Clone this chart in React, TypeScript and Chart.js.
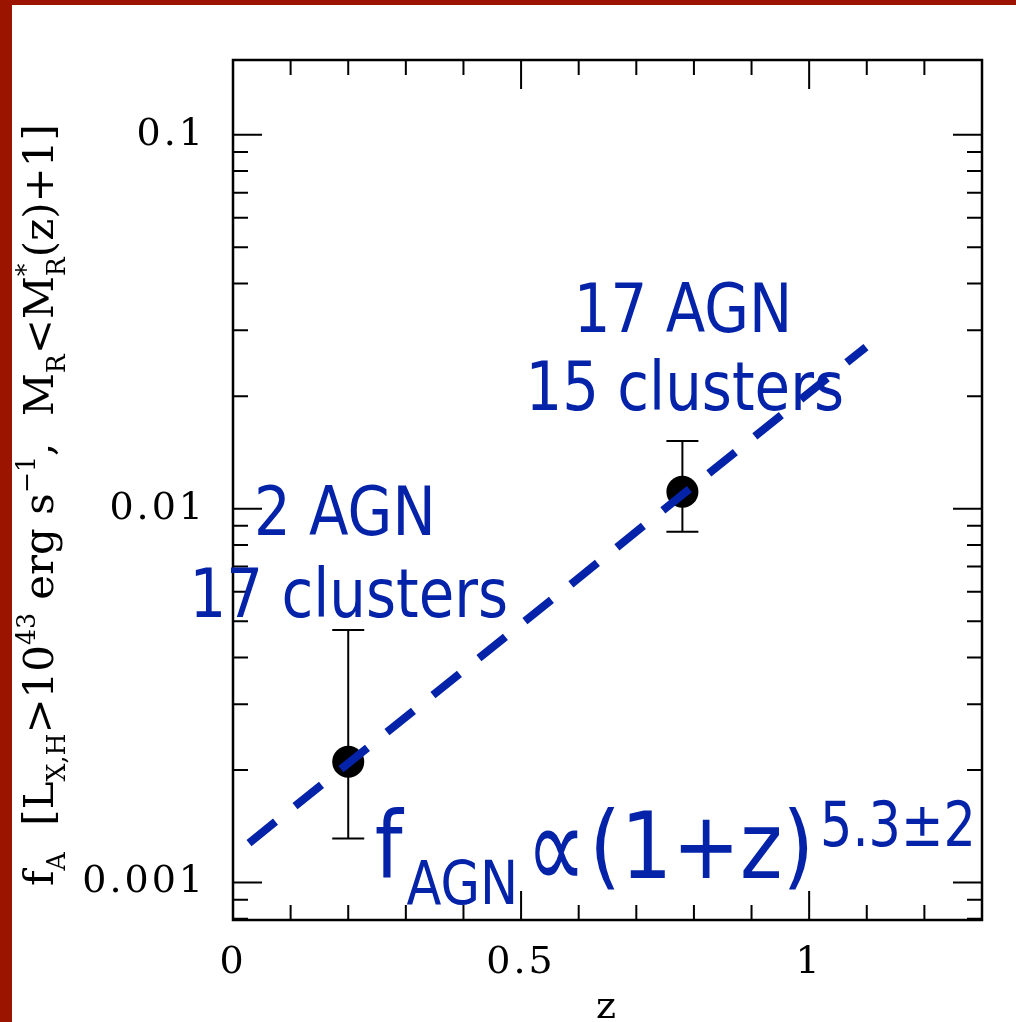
import React, { useEffect, useRef } from 'react';
import { Chart, registerables } from 'chart.js';

Chart.register(...registerables);

// ---- data ----
const zValues = [0.2, 0.78];
const fValues = [0.002105, 0.0111];
const fErrHigh = [0.004737, 0.01517];
const fErrLow = [0.001313, 0.008679];

const fitZ = [0.0278, 1.0986];
const fitF = [0.001276, 0.02706];

const xLabelValues = [0, 0.5, 1];
const xLabelTexts = ['0', '0.5', '1'];
const yLabelValues = [0.001, 0.01, 0.1];
const yLabelTexts = ['0.001', '0.01', '0.1'];

const noteTexts = ['17 AGN', '15 clusters', '2 AGN', '17 clusters'];
const noteZ = [0.781, 0.784, 0.194, 0.201];
const noteF = [0.0297, 0.01836, 0.00851, 0.00513];

const formulaZ = 0.246;
const formulaF = 0.001028;

// ---- styling ----
const BLUE = '#0523a8';
const RED = '#9b1400';
const SERIF = '"DejaVu Serif", serif';
const SANS = '"DejaVu Sans", sans-serif';
const SX = 0.85;

const Y_MIN = Math.pow(10, -3.1);
const Y_MAX = Math.pow(10, -0.8);

function buildYTicks(): number[] {
  const out: number[] = [];
  for (let e = -4; e <= 0; e++) {
    for (let m = 1; m <= 9; m++) {
      const v = m * Math.pow(10, e);
      if (v >= Y_MIN * 0.9999 && v <= Y_MAX * 1.0001) out.push(v);
    }
  }
  return out;
}

function drawScaled(ctx: CanvasRenderingContext2D, text: string, x: number, y: number, size: number, align: CanvasTextAlign, sx: number) {
  ctx.save();
  ctx.font = `${size}px ${SANS}`;
  ctx.translate(x, y);
  ctx.scale(sx, 1);
  ctx.textAlign = align;
  ctx.textBaseline = 'alphabetic';
  ctx.fillText(text, 0, 0);
  ctx.restore();
}
function widthScaled(ctx: CanvasRenderingContext2D, text: string, size: number, sx: number) {
  ctx.save();
  ctx.font = `${size}px ${SANS}`;
  const w = ctx.measureText(text).width * sx;
  ctx.restore();
  return w;
}

type Part = { t: string; k: 'n' | 'sub' | 'sup'; stack?: boolean };
const titleParts: Part[] = [
  { t: 'f', k: 'n' },
  { t: 'A', k: 'sub' },
  { t: '  [', k: 'n' },
  { t: 'L', k: 'n' },
  { t: 'X,H', k: 'sub' },
  { t: '>10', k: 'n' },
  { t: '43', k: 'sup' },
  { t: ' erg s', k: 'n' },
  { t: '\u22121', k: 'sup' },
  { t: ',  M', k: 'n' },
  { t: 'R', k: 'sub' },
  { t: '<M', k: 'n' },
  { t: '*', k: 'sup', stack: true },
  { t: 'R', k: 'sub' },
  { t: '(z)+1]', k: 'n' },
];
const TITLE_LENGTH = 762;

function layoutTitle(ctx: CanvasRenderingContext2D, F: number, draw: boolean): number {
  const S = F * 0.6;
  let cx = 0;
  let pendingStack = 0;
  titleParts.forEach((p) => {
    const size = p.k === 'n' ? F : S;
    ctx.font = `${size}px ${SERIF}`;
    const dy = p.k === 'sub' ? F * 0.28 : p.k === 'sup' ? -F * 0.42 : 0;
    if (draw) ctx.fillText(p.t, cx, dy);
    const w = ctx.measureText(p.t).width;
    if (p.stack) {
      pendingStack = w;
    } else {
      cx += Math.max(w, pendingStack);
      pendingStack = 0;
    }
  });
  return cx;
}

const framePlugin = {
  id: 'framePlugin',
  beforeDraw(chart: any) {
    const { ctx, width, height } = chart;
    ctx.save();
    ctx.fillStyle = '#ffffff';
    ctx.fillRect(0, 0, width, height);
    ctx.restore();
    // wider letter spacing for the axis labels (reference font is widely spaced)
    (ctx as any).letterSpacing = '3px';
  },
  beforeDatasetsDraw(chart: any) {
    const { ctx, chartArea: a, scales } = chart;
    (ctx as any).letterSpacing = '0px';
    const xs = scales.x;
    const ys = scales.y;
    ctx.save();
    ctx.strokeStyle = '#000';
    ctx.lineWidth = 2;
    ctx.beginPath();
    xs.ticks.forEach((t: any) => {
      const v = t.value;
      const px = xs.getPixelForValue(v);
      const major = Math.abs(v * 2 - Math.round(v * 2)) < 1e-6;
      const len = major ? 29 : 15;
      ctx.moveTo(px, a.bottom);
      ctx.lineTo(px, a.bottom - len);
      ctx.moveTo(px, a.top);
      ctx.lineTo(px, a.top + len);
    });
    ys.ticks.forEach((t: any) => {
      const v = t.value;
      const py = ys.getPixelForValue(v);
      const e = Math.floor(Math.log10(v) + 1e-9);
      const m = v / Math.pow(10, e);
      const major = Math.abs(m - 1) < 1e-6;
      const len = major ? 29 : 15;
      ctx.moveTo(a.left, py);
      ctx.lineTo(a.left + len, py);
      ctx.moveTo(a.right, py);
      ctx.lineTo(a.right - len, py);
    });
    ctx.stroke();
    ctx.lineWidth = 2.5;
    ctx.strokeRect(a.left, a.top, a.right - a.left, a.bottom - a.top);

    // error bars
    ctx.lineWidth = 2;
    ctx.beginPath();
    zValues.forEach((z, i) => {
      const px = xs.getPixelForValue(z);
      const pHi = ys.getPixelForValue(fErrHigh[i]);
      const pLo = ys.getPixelForValue(fErrLow[i]);
      ctx.moveTo(px, pHi);
      ctx.lineTo(px, pLo);
      ctx.moveTo(px - 16, pHi);
      ctx.lineTo(px + 16, pHi);
      ctx.moveTo(px - 16, pLo);
      ctx.lineTo(px + 16, pLo);
    });
    ctx.stroke();
    ctx.restore();
  },
  afterDatasetsDraw(chart: any) {
    const { ctx, scales } = chart;
    (ctx as any).letterSpacing = '0px';
    const xs = scales.x;
    const ys = scales.y;
    ctx.save();
    ctx.fillStyle = BLUE;
    noteTexts.forEach((t, i) => {
      drawScaled(ctx, t, xs.getPixelForValue(noteZ[i]), ys.getPixelForValue(noteF[i]), 68, 'center', SX);
    });

    // formula f_AGN ∝ (1+z)^{5.3±2}
    let x = xs.getPixelForValue(formulaZ);
    const base = ys.getPixelForValue(formulaF);
    drawScaled(ctx, 'f', x, base, 93, 'left', SX);
    x += widthScaled(ctx, 'f', 93, SX) + 4;
    drawScaled(ctx, 'AGN', x, base + 26, 60, 'left', SX);
    x += widthScaled(ctx, 'AGN', 60, SX) + 8;
    drawScaled(ctx, '\u221D', x, base + 11, 120, 'left', 0.7);
    x += widthScaled(ctx, '\u221D', 120, 0.7) + 3;
    drawScaled(ctx, '(1+z)', x, base, 93, 'left', 0.87);
    x += widthScaled(ctx, '(1+z)', 93, 0.87) + 6;
    drawScaled(ctx, '5.3\u00B12', x, base - 32, 62, 'left', 0.82);
    ctx.restore();

    // rotated y title
    ctx.save();
    ctx.fillStyle = '#000';
    ctx.textBaseline = 'alphabetic';
    ctx.textAlign = 'left';
    const w40 = layoutTitle(ctx, 40, false);
    const F = (40 * TITLE_LENGTH) / w40;
    ctx.translate(41, 881);
    ctx.rotate(-Math.PI / 2);
    layoutTitle(ctx, F, true);
    ctx.restore();
  },
};

export default function App() {
  const ref = useRef<HTMLCanvasElement | null>(null);
  useEffect(() => {
    if (!ref.current) return;
    const yTicks = buildYTicks();
    const chart = new Chart(ref.current, {
      type: 'scatter',
      data: {
        datasets: [
          {
            label: 'fit',
            data: fitZ.map((z, i) => ({ x: z, y: fitF[i] })),
            showLine: true,
            borderColor: BLUE,
            borderWidth: 8,
            borderDash: [34, 25],
            borderCapStyle: 'butt',
            pointRadius: 0,
            fill: false,
            order: 0,
          } as any,
          {
            label: 'data',
            data: zValues.map((z, i) => ({ x: z, y: fValues[i] })),
            pointRadius: 16,
            pointBackgroundColor: '#000',
            pointBorderColor: '#000',
            pointBorderWidth: 0,
            order: 1,
          } as any,
        ],
      },
      options: {
        animation: false,
        responsive: false,
        events: [],
        layout: { padding: { top: 55, right: 34, left: 0, bottom: 0 } },
        plugins: { legend: { display: false }, tooltip: { enabled: false } },
        scales: {
          x: {
            type: 'linear',
            min: 0,
            max: 1.3,
            grid: { display: false, drawTicks: false },
            border: { display: false },
            ticks: {
              stepSize: 0.1,
              autoSkip: false,
              maxRotation: 0,
              padding: 20,
              color: '#000',
              font: { family: SERIF, size: 38 },
              callback: (v: any) => {
                const idx = xLabelValues.findIndex((lv) => Math.abs(lv - Number(v)) < 1e-6);
                return idx >= 0 ? xLabelTexts[idx] : '';
              },
            },
            title: {
              display: true,
              text: 'z',
              color: '#000',
              font: { family: SERIF, size: 38 },
              padding: { top: 0, bottom: -9 },
            },
            afterFit: (s: any) => {
              s.height = 102;
            },
          } as any,
          y: {
            type: 'logarithmic',
            min: Y_MIN,
            max: Y_MAX,
            grid: { display: false, drawTicks: false },
            border: { display: false },
            afterBuildTicks: (s: any) => {
              s.ticks = yTicks.map((v) => ({ value: v }));
            },
            ticks: {
              autoSkip: false,
              padding: 27,
              color: '#000',
              font: { family: SERIF, size: 38 },
              callback: (v: any) => {
                const idx = yLabelValues.findIndex((lv) => Math.abs(lv - Number(v)) / lv < 1e-6);
                return idx >= 0 ? yLabelTexts[idx] : '';
              },
            },
            afterFit: (s: any) => {
              s.width = 221;
            },
          } as any,
        },
      },
      plugins: [framePlugin],
    });
    return () => chart.destroy();
  }, []);

  return (
    <div style={{ position: 'fixed', left: 0, top: 0, width: 1016, height: 1022, background: RED, overflow: 'hidden' }}>
      <canvas
        ref={ref}
        width={1004}
        height={1017}
        style={{ position: 'absolute', left: 12, top: 5, width: 1004, height: 1017, background: '#fff' }}
      />
    </div>
  );
}
